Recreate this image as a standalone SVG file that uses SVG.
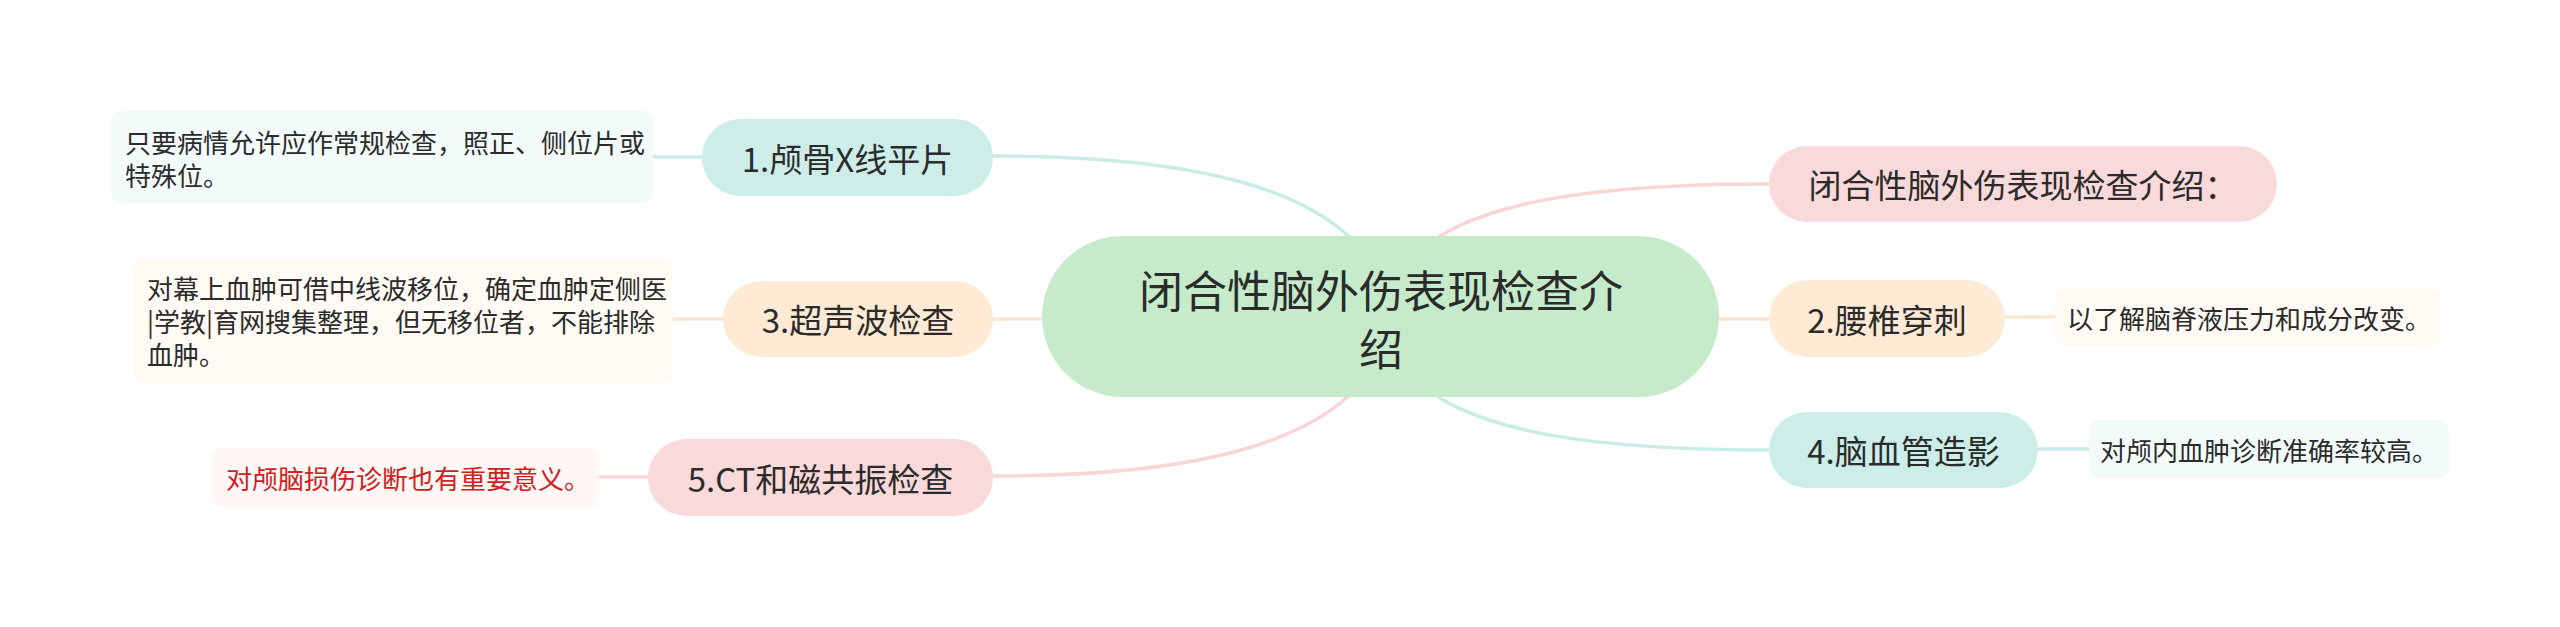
<svg xmlns="http://www.w3.org/2000/svg" width="2560" height="627" viewBox="0 0 2560 627">
<style>
text{font-family:"Noto Sans CJK SC","Noto Sans",sans-serif;fill:#2b2b2b;dominant-baseline:central}
.c{font-size:44px;text-anchor:middle}
.m{font-size:33px;text-anchor:middle}
.l{font-size:26px}
.red{fill:#d02020}
.ln{fill:none;stroke-width:3.5;stroke-linecap:round}
.lt{stroke:#c9ede6}
.lp{stroke:#f8d6d6}
.lo{stroke:#fde6d1}
.ft{fill:#cdeee8}
.fp{fill:#fad9da}
.fo{fill:#ffead6}
.bt{fill:#f3fbfa}
.bo{fill:#fffaf4}
.bp{fill:#fff6f6}
</style>
<rect width="2560" height="627" fill="#ffffff"/>
<g id="connectors">
<path class="ln lt" d="M993 156 C1200 156 1320 190 1370 260"/>
<path class="ln lp" d="M993 476 C1200 476 1320 442 1370 372"/>
<path class="ln lo" d="M993 319 L1060 319"/>
<path class="ln lp" d="M1770 184 C1580 184 1460 205 1410 260"/>
<path class="ln lt" d="M1770 450 C1580 450 1460 429 1410 374"/>
<path class="ln lo" d="M1700 319 L1770 319"/>
<path class="ln lt" d="M653 157 L703 157"/>
<path class="ln lo" d="M673 319 L724 319"/>
<path class="ln lp" d="M599 477 L649 477"/>
<path class="ln lo" d="M2004 317 L2055 317"/>
<path class="ln lt" d="M2037 449 L2089 449"/>
</g>
<g id="center">
<rect x="1042" y="236" width="677" height="161" rx="80.5" fill="#c6ebca"/>
<text class="c" x="1381" y="289">闭合性脑外伤表现检查介</text>
<text class="c" x="1381" y="347">绍</text>
</g>
<g id="n1">
<rect class="ft" x="702" y="119" width="291" height="77" rx="38.5"/>
<text class="m" x="847.5" y="157.5">1.颅骨X线平片</text>
</g>
<g id="n3">
<rect class="fo" x="723" y="281" width="270" height="76" rx="38"/>
<text class="m" x="858" y="319">3.超声波检查</text>
</g>
<g id="n5">
<rect class="fp" x="648" y="439" width="345" height="77" rx="38.5"/>
<text class="m" x="820.5" y="477.5">5.CT和磁共振检查</text>
</g>
<g id="n0">
<rect class="fp" x="1769" y="146" width="508" height="76" rx="38"/>
<text class="m" x="2023" y="184">闭合性脑外伤表现检查介绍：</text>
</g>
<g id="n2">
<rect class="fo" x="1769" y="280" width="236" height="77" rx="38.5"/>
<text class="m" x="1887" y="318.5">2.腰椎穿刺</text>
</g>
<g id="n4">
<rect class="ft" x="1769" y="412" width="269" height="76" rx="38"/>
<text class="m" x="1903.5" y="450">4.脑血管造影</text>
</g>
<g id="leaf1">
<rect class="bt" x="111" y="111" width="542" height="92" rx="10"/>
<text class="l" x="125" y="141">只要病情允许应作常规检查，照正、侧位片或</text>
<text class="l" x="125" y="174">特殊位。</text>
</g>
<g id="leaf3">
<rect class="bo" x="133" y="258" width="540" height="125" rx="10"/>
<text class="l" x="147" y="287.5">对幕上血肿可借中线波移位，确定血肿定侧医</text>
<text class="l" x="147" y="320.5">|学教|育网搜集整理，但无移位者，不能排除</text>
<text class="l" x="147" y="353.5">血肿。</text>
</g>
<g id="leaf5">
<rect class="bp" x="212" y="448" width="387" height="59" rx="10"/>
<text class="l red" x="226" y="477.5">对颅脑损伤诊断也有重要意义。</text>
</g>
<g id="leaf2">
<rect class="bo" x="2055" y="288" width="386" height="58" rx="10"/>
<text class="l" x="2067" y="317">以了解脑脊液压力和成分改变。</text>
</g>
<g id="leaf4">
<rect class="bt" x="2089" y="420" width="360" height="58" rx="10"/>
<text class="l" x="2100" y="449">对颅内血肿诊断准确率较高。</text>
</g>
</svg>
